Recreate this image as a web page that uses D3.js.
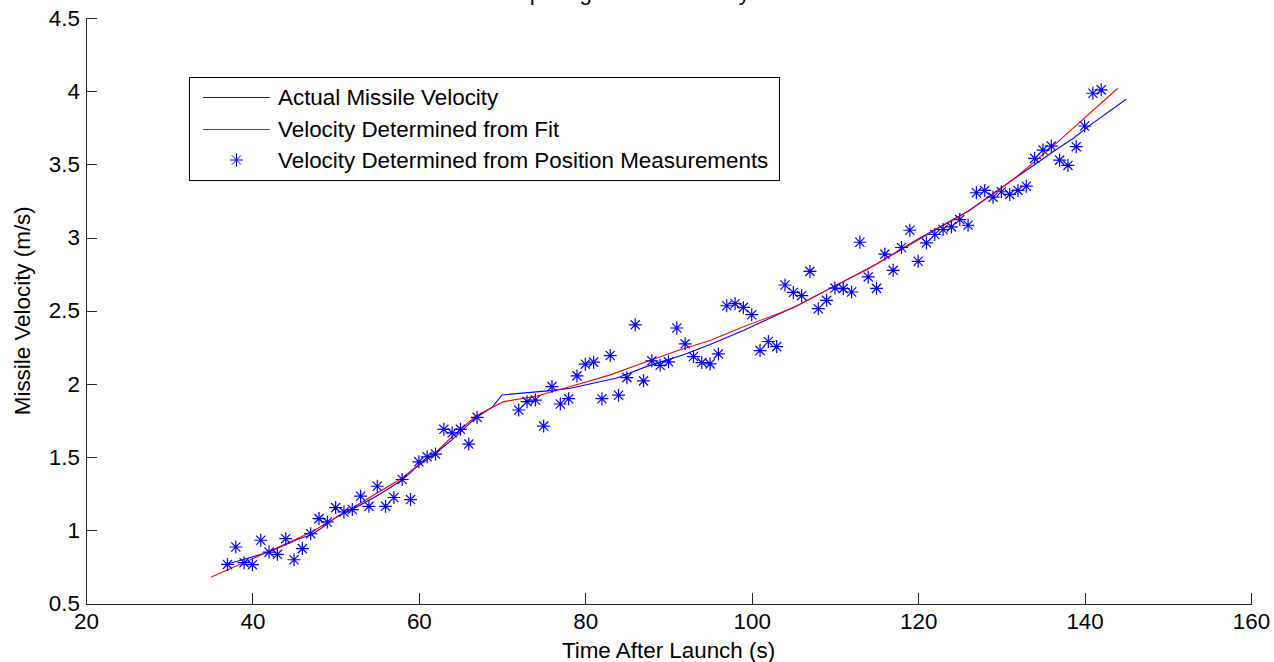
<!DOCTYPE html>
<html>
<head>
<meta charset="utf-8">
<script src="https://cdn.jsdelivr.net/npm/d3@7/dist/d3.min.js"></script>
<style>
    body { margin: 0; background: #fff; }
    svg { font-family: "Liberation Sans", Arial, Helvetica, sans-serif; }
</style>
</head>
<body>
<div id="vis"></div>
<script>
// actual missile velocity (blue line)
const actualT = [37, 38.3, 41.9, 43.5, 45.5, 47.1, 48.7, 50.3, 51.9, 55.1, 57.9, 59.9, 62.3, 64, 66.75, 68.8, 70,
    75.8, 78.2, 83.8, 87.4, 91.8, 95, 99, 105.8, 110, 115, 120, 126, 131.5, 136.3, 138.7, 140.7, 145];
const actualV = [0.77, 0.79, 0.85, 0.89, 0.94, 0.97, 1.03, 1.10, 1.14, 1.24, 1.34, 1.44, 1.54, 1.62, 1.765, 1.84, 1.925,
    1.954, 1.97, 2.04, 2.12, 2.20, 2.27, 2.365, 2.545, 2.67, 2.82, 2.99, 3.18, 3.40, 3.59, 3.68, 3.77, 3.945];

// velocity from fit (red line)
const fitT = [35, 42.3, 47.1, 51.9, 57.9, 59.9, 62.3, 64, 66.75, 68.6, 70.2, 74.2, 78.2, 83, 87.4, 91.4, 95, 99,
    105, 109, 113.8, 120.2, 126.3, 131.5, 136.3, 144];
const fitV = [0.68, 0.863, 0.988, 1.149, 1.354, 1.445, 1.548, 1.639, 1.776, 1.834, 1.879, 1.918, 1.982, 2.062, 2.153,
    2.233, 2.297, 2.39, 2.52, 2.64, 2.78, 2.99, 3.19, 3.40, 3.63, 4.02];

// velocity from position measurements (stars)
const measT = [37, 38, 39, 40, 41, 42, 43, 44, 45, 46, 47, 48, 49, 50, 51, 52, 53, 54, 55, 56, 57, 58, 59, 60, 61, 62,
    63, 64, 65, 66, 67,
    72, 73, 74, 75, 76, 77, 78, 79, 80, 81, 82, 83, 84, 85, 86, 87, 88, 89, 90, 91, 92, 93, 94, 95, 96, 97, 98, 99,
    100, 101, 102, 103, 104, 105, 106, 107, 108, 109, 110, 111, 112, 113, 114, 115, 116, 117, 118, 119, 120, 121,
    122, 123, 124, 125, 126, 127, 128, 129, 130, 131, 132, 133, 134, 135, 136, 137, 138, 139, 140, 141, 142];
const measV = [0.767, 0.886, 0.779, 0.765, 0.932, 0.851, 0.836, 0.943, 0.799, 0.875, 0.977, 1.080, 1.057, 1.155,
    1.125, 1.142, 1.233, 1.164, 1.301, 1.164, 1.224, 1.347, 1.210, 1.468, 1.502, 1.521, 1.690, 1.666, 1.690, 1.589,
    1.772,
    1.822, 1.879, 1.890, 1.712, 1.982, 1.863, 1.899, 2.055, 2.135, 2.149, 1.899, 2.194, 1.923, 2.043, 2.404, 2.021,
    2.158, 2.127, 2.151, 2.382, 2.274, 2.187, 2.146, 2.137, 2.205, 2.534, 2.548, 2.523, 2.473, 2.228, 2.290, 2.255,
    2.676, 2.625, 2.603, 2.769, 2.514, 2.571, 2.655, 2.651, 2.628, 2.968, 2.731, 2.653, 2.887, 2.776, 2.932, 3.050,
    2.838, 2.964, 3.021, 3.055, 3.073, 3.123, 3.084, 3.306, 3.322, 3.276, 3.313, 3.295, 3.322, 3.351, 3.541, 3.598,
    3.625, 3.529, 3.493, 3.621, 3.762, 3.986, 4.009];

const xTicks = [20, 40, 60, 80, 100, 120, 140, 160];
const yTicks = [0.5, 1, 1.5, 2, 2.5, 3, 3.5, 4, 4.5];
const legendLabels = ["Actual Missile Velocity", "Velocity Determined from Fit", "Velocity Determined from Position Measurements"];
const titleText = "Comparing Missile Velocity Estimates";

const width = 1274, height = 662;
const plot = {left: 86, right: 1251, top: 18, bottom: 603.5};
const fontSize = "22.4px";
const starPath = "M-6.5,0H6.5M0,-6.5V6.5M-4.6,-4.6L4.6,4.6M-4.6,4.6L4.6,-4.6";

const svg = d3.select("#vis").append("svg")
    .attr("width", width)
    .attr("height", height);

const x = d3.scaleLinear().domain([20, 160]).range([plot.left, plot.right]);
const y = d3.scaleLinear().domain([0.5, 4.5]).range([plot.bottom, plot.top]);

// axes, ticks pointing inward like matlab
const xAxis = svg.append("g")
    .attr("transform", "translate(0," + plot.bottom + ")")
    .call(d3.axisBottom(x).tickValues(xTicks).tickSize(-11).tickPadding(10).tickFormat(d => d));
const yAxis = svg.append("g")
    .attr("transform", "translate(" + plot.left + ",0)")
    .call(d3.axisLeft(y).tickValues(yTicks).tickSize(-11).tickPadding(6).tickFormat(d => d));

[xAxis, yAxis].forEach(function(a){
    a.select(".domain").attr("stroke", "#262626").attr("shape-rendering", "crispEdges");
    a.selectAll(".tick line").attr("stroke", "#262626").attr("shape-rendering", "crispEdges");
    a.selectAll(".tick text").attr("fill", "#000").style("font-size", fontSize)
        .style("font-family", "'Liberation Sans', Arial, sans-serif");
});

const line = d3.line().x(d => x(d[0])).y(d => y(d[1]));

svg.append("path")
    .datum(actualT.map((t, i) => [t, actualV[i]]))
    .attr("fill", "none")
    .attr("stroke", "#0000ff")
    .attr("stroke-width", 1.1)
    .attr("d", line);

svg.append("path")
    .datum(fitT.map((t, i) => [t, fitV[i]]))
    .attr("fill", "none")
    .attr("stroke", "#ff0000")
    .attr("stroke-width", 1.1)
    .attr("d", line);

svg.selectAll(".star")
    .data(measT.map((t, i) => [t, measV[i]]))
    .enter()
    .append("path")
    .attr("class", "star")
    .attr("transform", d => "translate(" + x(d[0]) + "," + y(d[1]) + ")")
    .attr("d", starPath)
    .attr("fill", "none")
    .attr("stroke", "#0000ff")
    .attr("stroke-width", 1.2);

// title, mostly clipped off the top like the original
svg.append("text")
    .attr("x", (plot.left + plot.right) / 2)
    .attr("y", 0)
    .attr("text-anchor", "middle")
    .style("font-size", fontSize)
    .text(titleText);

svg.append("text")
    .attr("x", (plot.left + plot.right) / 2)
    .attr("y", 658)
    .attr("text-anchor", "middle")
    .style("font-size", fontSize)
    .text("Time After Launch (s)");

svg.append("text")
    .attr("transform", "translate(30," + (plot.top + plot.bottom) / 2 + ") rotate(-90)")
    .attr("text-anchor", "middle")
    .style("font-size", fontSize)
    .text("Missile Velocity (m/s)");

// legend
const legend = svg.append("g");
legend.append("rect")
    .attr("x", 189.5).attr("y", 77.5)
    .attr("width", 590).attr("height", 103)
    .attr("fill", "#fff")
    .attr("stroke", "#000")
    .attr("stroke-width", 1);

const rowY = [97, 129, 160];
const legendColours = ["#0000ff", "#ff0000", "#0000ff"];
legendLabels.forEach(function(label, i){
    if (i < 2){
        legend.append("line")
            .attr("x1", 203).attr("x2", 270)
            .attr("y1", rowY[i] + 0.5).attr("y2", rowY[i] + 0.5)
            .attr("stroke", legendColours[i]);
    } else {
        legend.append("path")
            .attr("transform", "translate(236.5," + rowY[i] + ")")
            .attr("d", starPath)
            .attr("fill", "none")
            .attr("stroke", legendColours[i]);
    }
    legend.append("text")
        .attr("x", 278)
        .attr("y", rowY[i])
        .attr("dy", "0.36em")
        .style("font-size", fontSize)
        .text(label);
});
</script>
</body>
</html>
